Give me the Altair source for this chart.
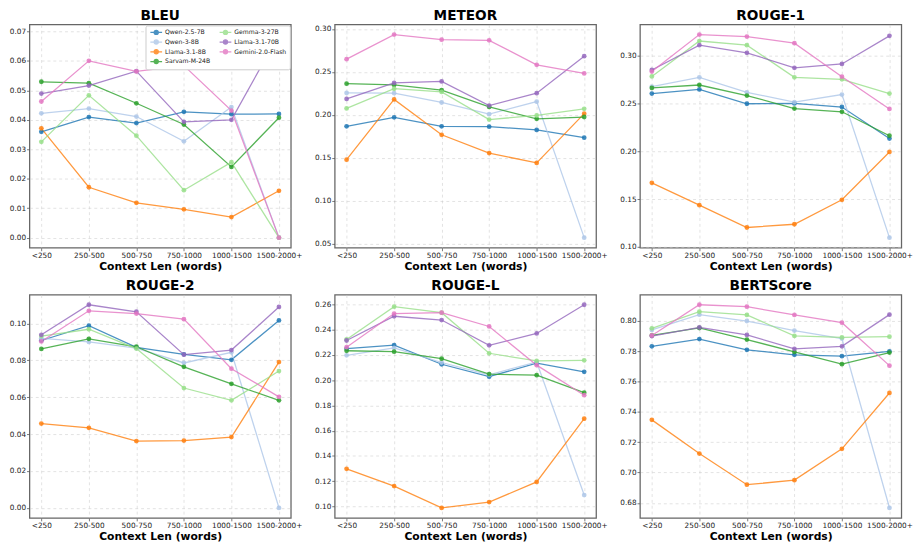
import altair as alt
import pandas as pd

CATS = ["<250", "250-500", "500-750", "750-1000", "1000-1500", "1500-2000+"]
MODELS = ["Qwen-2.5-7B", "Qwen-3-8B", "Llama-3.1-8B", "Sarvam-M-24B",
          "Gemma-3-27B", "Llama-3.1-70B", "Gemini-2.0-Flash"]
COLORS = ["#1f77b4", "#aec7e8", "#ff7f0e", "#2ca02c", "#98df8a", "#9467bd", "#e377c2"]

BLEU = {
    "Qwen-2.5-7B":      [0.0359, 0.0409, 0.0389, 0.0427, 0.0419, 0.0420],
    "Qwen-3-8B":        [0.0422, 0.0438, 0.0411, 0.0327, 0.0443, 0.0000],
    "Llama-3.1-8B":     [0.0371, 0.0171, 0.0118, 0.0096, 0.0070, 0.0159],
    "Sarvam-M-24B":     [0.0529, 0.0524, 0.0456, 0.0384, 0.0240, 0.0407],
    "Gemma-3-27B":      [0.0325, 0.0483, 0.0346, 0.0161, 0.0256, 0.0000],
    "Llama-3.1-70B":    [0.0489, 0.0516, 0.0565, 0.0393, 0.0400, 0.0689],
    "Gemini-2.0-Flash": [0.0462, 0.0600, 0.0564, 0.0584, 0.0431, 0.0000],
}
METEOR = {
    "Qwen-2.5-7B":      [0.1866, 0.1970, 0.1866, 0.1862, 0.1823, 0.1734],
    "Qwen-3-8B":        [0.2254, 0.2251, 0.2143, 0.2007, 0.2153, 0.0570],
    "Llama-3.1-8B":     [0.1478, 0.2179, 0.1767, 0.1554, 0.1440, 0.2013],
    "Sarvam-M-24B":     [0.2362, 0.2347, 0.2288, 0.2091, 0.1953, 0.1974],
    "Gemma-3-27B":      [0.2074, 0.2303, 0.2266, 0.1944, 0.1993, 0.2069],
    "Llama-3.1-70B":    [0.2184, 0.2370, 0.2388, 0.2107, 0.2251, 0.2682],
    "Gemini-2.0-Flash": [0.2647, 0.2933, 0.2874, 0.2866, 0.2582, 0.2481],
}
ROUGE1 = {
    "Qwen-2.5-7B":      [0.2603, 0.2647, 0.2497, 0.2500, 0.2463, 0.2133],
    "Qwen-3-8B":        [0.2677, 0.2773, 0.2617, 0.2513, 0.2593, 0.1097],
    "Llama-3.1-8B":     [0.1670, 0.1437, 0.1203, 0.1237, 0.1493, 0.1993],
    "Sarvam-M-24B":     [0.2663, 0.2693, 0.2583, 0.2447, 0.2413, 0.2163],
    "Gemma-3-27B":      [0.2783, 0.3153, 0.3110, 0.2773, 0.2753, 0.2603],
    "Llama-3.1-70B":    [0.2850, 0.3110, 0.3030, 0.2873, 0.2913, 0.3207],
    "Gemini-2.0-Flash": [0.2833, 0.3220, 0.3200, 0.3130, 0.2780, 0.2443],
}
ROUGE2 = {
    "Qwen-2.5-7B":      [0.0908, 0.0988, 0.0871, 0.0833, 0.0803, 0.1017],
    "Qwen-3-8B":        [0.0920, 0.0900, 0.0866, 0.0786, 0.0844, 0.0000],
    "Llama-3.1-8B":     [0.0457, 0.0434, 0.0362, 0.0365, 0.0384, 0.0791],
    "Sarvam-M-24B":     [0.0862, 0.0917, 0.0874, 0.0765, 0.0673, 0.0583],
    "Gemma-3-27B":      [0.0932, 0.0969, 0.0864, 0.0650, 0.0583, 0.0742],
    "Llama-3.1-70B":    [0.0939, 0.1102, 0.1064, 0.0831, 0.0856, 0.1090],
    "Gemini-2.0-Flash": [0.0903, 0.1069, 0.1054, 0.1024, 0.0755, 0.0602],
}
ROUGEL = {
    "Qwen-2.5-7B":      [0.2249, 0.2278, 0.2126, 0.2028, 0.2134, 0.2066],
    "Qwen-3-8B":        [0.2197, 0.2256, 0.2140, 0.2043, 0.2144, 0.1091],
    "Llama-3.1-8B":     [0.1298, 0.1162, 0.0990, 0.1035, 0.1195, 0.1695],
    "Sarvam-M-24B":     [0.2233, 0.2226, 0.2170, 0.2048, 0.2040, 0.1901],
    "Gemma-3-27B":      [0.2322, 0.2582, 0.2534, 0.2213, 0.2152, 0.2157],
    "Llama-3.1-70B":    [0.2314, 0.2506, 0.2476, 0.2276, 0.2370, 0.2597],
    "Gemini-2.0-Flash": [0.2261, 0.2527, 0.2534, 0.2425, 0.2119, 0.1881],
}
BERTSCORE = {
    "Qwen-2.5-7B":      [0.7831, 0.7879, 0.7808, 0.7775, 0.7766, 0.7798],
    "Qwen-3-8B":        [0.7939, 0.8040, 0.7998, 0.7935, 0.7882, 0.6768],
    "Llama-3.1-8B":     [0.7347, 0.7125, 0.6920, 0.6950, 0.7156, 0.7524],
    "Sarvam-M-24B":     [0.7903, 0.7952, 0.7876, 0.7794, 0.7714, 0.7790],
    "Gemma-3-27B":      [0.7950, 0.8059, 0.8038, 0.7900, 0.7890, 0.7895],
    "Llama-3.1-70B":    [0.7899, 0.7956, 0.7906, 0.7815, 0.7831, 0.8040],
    "Gemini-2.0-Flash": [0.7903, 0.8105, 0.8092, 0.8038, 0.7987, 0.7704],
}

TICKS = {
    "BLEU": [0.00, 0.01, 0.02, 0.03, 0.04, 0.05, 0.06, 0.07],
    "METEOR": [0.05, 0.10, 0.15, 0.20, 0.25, 0.30],
    "ROUGE-1": [0.10, 0.15, 0.20, 0.25, 0.30],
    "ROUGE-2": [0.00, 0.02, 0.04, 0.06, 0.08, 0.10],
    "ROUGE-L": [0.10, 0.12, 0.14, 0.16, 0.18, 0.20, 0.22, 0.24, 0.26],
    "BERTScore": [0.68, 0.70, 0.72, 0.74, 0.76, 0.78, 0.80],
}
METRICS = [("BLEU", BLEU), ("METEOR", METEOR), ("ROUGE-1", ROUGE1),
           ("ROUGE-2", ROUGE2), ("ROUGE-L", ROUGEL), ("BERTScore", BERTSCORE)]

FONT = "DejaVu Sans"
W, H = 268, 229
LEGEND_SYMBOL = "M-2,0H2M0.7,0A0.7,0.7 0 1,1 -0.7,0A0.7,0.7 0 1,1 0.7,0Z"


def panel(name, table, show_legend):
    rows = []
    for m in MODELS:
        for c, v in zip(CATS, table[m]):
            rows.append({"cat": c, "model": m, "value": v})
    df = pd.DataFrame(rows)
    vals = [v for m in MODELS for v in table[m]]
    lo, hi = min(vals), max(vals)
    pad = (hi - lo) * 0.05
    if show_legend:
        legend = alt.Legend(
            title=None, orient="top-right", columns=2, offset=1,
            labelFont=FONT, labelFontSize=6.3, labelColor="#222", labelLimit=120,
            labelOffset=5,
            symbolType=LEGEND_SYMBOL, symbolSize=36, symbolStrokeWidth=1.3,
            symbolOffset=4,
            columnPadding=6, rowPadding=0, padding=3,
            strokeColor="#cccccc", fillColor="white", cornerRadius=2,
        )
    else:
        legend = None
    x = alt.X("cat:N", sort=CATS, scale=alt.Scale(type="point", padding=0.25),
              axis=alt.Axis(title="Context Len (words)", labelAngle=0))
    y = alt.Y("value:Q", scale=alt.Scale(domain=[lo - pad, hi + pad], nice=False, zero=False),
              axis=alt.Axis(title=None, values=TICKS[name], format=".2f"))
    color = alt.Color("model:N", scale=alt.Scale(domain=MODELS, range=COLORS),
                      legend=legend)
    base = alt.Chart(df).encode(x=x, y=y, color=color, detail="model:N")
    lines = base.mark_line(strokeWidth=1.3, opacity=0.8)
    pts = base.mark_point(filled=True, size=24, opacity=0.85)
    return alt.layer(lines, pts).properties(
        width=W, height=H,
        title=alt.TitleParams(name, font=FONT, fontSize=14, fontWeight="bold",
                              color="black", offset=2),
    )


charts = [panel(n, t, i == 0) for i, (n, t) in enumerate(METRICS)]
row1 = alt.hconcat(*charts[:3], spacing=10).resolve_scale(color="independent", y="independent")
row2 = alt.hconcat(*charts[3:], spacing=10).resolve_scale(color="independent", y="independent")
chart = alt.vconcat(row1, row2, spacing=5).resolve_scale(color="independent", y="independent")

chart = chart.properties(padding={"left": 0, "top": -7, "right": 0, "bottom": 0}).configure(
    font=FONT,
    background="white",
).configure_view(
    stroke="#666666", strokeWidth=1.3,
).configure_axis(
    domain=False,
    grid=True, gridColor="#cccccc", gridDash=[3, 3], gridWidth=0.7, gridOpacity=0.8,
    ticks=True, tickColor="#555", tickSize=3, tickWidth=0.8,
    labelFont=FONT, labelFontSize=7.5, labelColor="#222", labelPadding=1,
    titleFont=FONT, titleFontSize=11, titleFontWeight="bold", titleColor="black",
    titlePadding=2,
)

chart.save("out.html", embed_options={"renderer": "svg", "actions": False})
